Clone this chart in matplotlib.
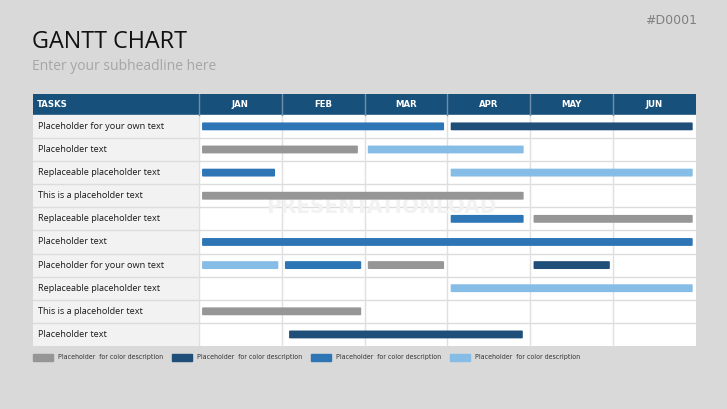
import matplotlib.pyplot as plt
from matplotlib.patches import Rectangle, FancyBboxPatch

months = ['JAN', 'FEB', 'MAR', 'APR', 'MAY', 'JUN']
tasks = ['Placeholder for your own text', 'Placeholder text', 'Replaceable placeholder text',
         'This is a placeholder text', 'Replaceable placeholder text', 'Placeholder text',
         'Placeholder for your own text', 'Replaceable placeholder text',
         'This is a placeholder text', 'Placeholder text']

# bars per task row: (start month, end month, color index)
bars_start = [[0, 3], [0, 2], [0, 3], [0], [3, 4], [0], [0, 1, 2, 4], [3], [0], [1.05]]
bars_end = [[3, 6], [1.96, 3.96], [0.96, 6], [3.96], [3.96, 6], [6], [1, 2, 3, 5], [6], [2], [3.95]]
bars_color = [[2, 1], [0, 3], [2, 3], [0], [2, 0], [2], [3, 2, 0, 1], [3], [0], [1]]

palette = ['#969696', '#1f4e79', '#2e75b6', '#86bde6']
legend_labels = ['Placeholder  for color description'] * 4

bg = '#d9d9d9'
header = '#17507a'
W, H = 727, 409
fig = plt.figure(figsize=(W / 100, H / 100), dpi=100, facecolor=bg)

fig.text(32 / W, 1 - 42 / H, 'GANTT CHART', fontsize=16.8, family='Open Sans', va='center', ha='left', color='#111111')
fig.text(32 / W, 1 - 67 / H, 'Enter your subheadline here', fontsize=10, family='Open Sans', va='center', ha='left', color='#a6a6a6')
fig.text(697 / W, 1 - 20 / H, '#D0001', fontsize=9, family='DejaVu Sans', va='center', ha='right', color='#808080')

# table axes: x -2..0 = task column, 0..6 = months
x0, x1, y0, y1 = 33, 696, 94, 346
ax = fig.add_axes([x0 / W, 1 - y1 / H, (x1 - x0) / W, (y1 - y0) / H])
ax.set_xlim(-2, 6)
hh = 0.9
ax.set_ylim(len(tasks), -hh)
ax.axis('off')

cond = dict(family='DejaVu Sans', fontstretch='condensed')
# header
ax.add_patch(Rectangle((-2, -hh), 8, hh, color=header, zorder=1))
ax.text(-1.95, -hh / 2, 'TASKS', color='white', fontsize=6.8, fontweight='bold', va='center', ha='left', zorder=3, **cond)
for i, m in enumerate(months):
    ax.text(i + 0.5, -hh / 2, m, color='white', fontsize=6.8, fontweight='bold', va='center', ha='center', zorder=3, **cond)

# body
ax.add_patch(Rectangle((-2, 0), 2, len(tasks), color='#f2f2f2', zorder=1))
ax.add_patch(Rectangle((0, 0), 6, len(tasks), color='white', zorder=1))
for r, t in enumerate(tasks):
    ax.text(-1.94, r + 0.5, t, fontsize=6.6, family='Open Sans', va='center', ha='left', color='#1a1a1a', zorder=3)
for r in range(1, len(tasks)):
    ax.plot([-2, 6], [r, r], color='#dcdcdc', lw=1, zorder=2)
for c in range(0, 6):
    ax.plot([c, c], [0, len(tasks)], color='#e0e0e0', lw=1, zorder=2)
    ax.plot([c, c], [-hh, 0], color='#6f8fa9', lw=1, zorder=2)

ax.text(2.2, 3.98, 'PRESENTATIONLOAD', fontsize=16, fontweight='bold', color='#f2f2f2',
        ha='center', va='center', zorder=2.5, **cond)

bh = 0.34
for r in range(len(tasks)):
    for s, e, ci in zip(bars_start[r], bars_end[r], bars_color[r]):
        ax.add_patch(FancyBboxPatch((s + 0.04, r + 0.5 - bh / 2), e - s - 0.08, bh,
                                    boxstyle='round,pad=0,rounding_size=0.02', color=palette[ci], lw=0, zorder=4))

# legend
lx = [33, 172, 311, 450]
for x, c, lab in zip(lx, palette, legend_labels):
    fig.patches.append(Rectangle((x / W, 1 - 361 / H), 20 / W, 7 / H, color=c, transform=fig.transFigure))
    fig.text((x + 25) / W, 1 - 357.5 / H, lab, fontsize=5.0, va='center', ha='left', color='#333333', **cond)

fig.savefig('out.png', dpi=100, facecolor=bg)
